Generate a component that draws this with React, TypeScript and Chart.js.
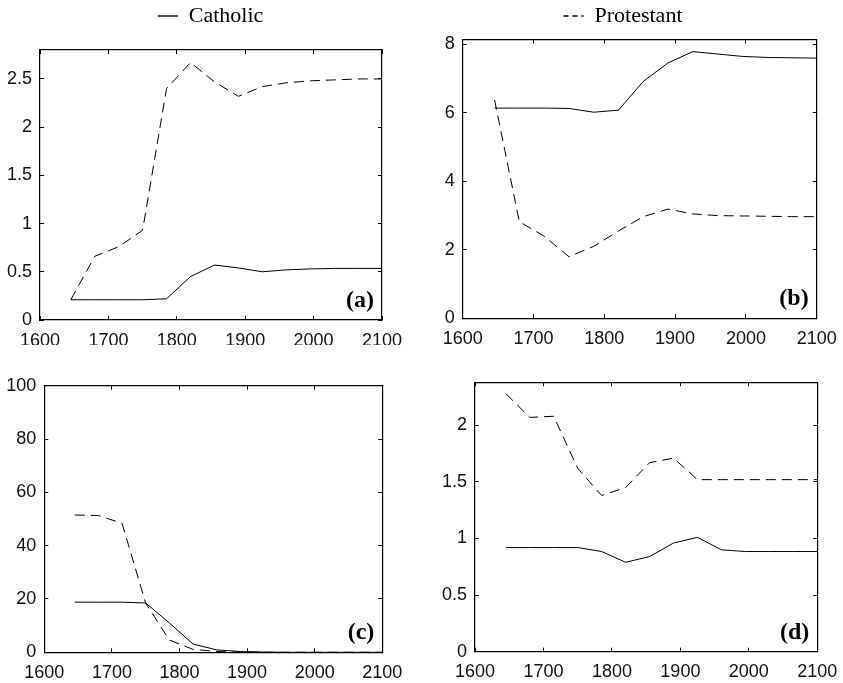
import React, { useEffect, useRef } from "react";
import { Chart, registerables } from "chart.js";

Chart.register(...registerables);
Chart.defaults.font.family = "'Liberation Sans', Arial, sans-serif";

// ---------- data ----------
const years = [1645, 1680, 1715, 1750, 1785, 1820, 1855, 1890, 1925, 1960, 1995, 2030, 2065, 2100];
const seriesLabels = ["Catholic", "Protestant"];

const catholicA = [0.21, 0.21, 0.21, 0.21, 0.22, 0.45, 0.57, 0.54, 0.5, 0.52, 0.53, 0.535, 0.535, 0.535];
const protestantA = [0.21, 0.66, 0.76, 0.93, 2.4, 2.67, 2.47, 2.32, 2.42, 2.46, 2.48, 2.49, 2.5, 2.5];

const catholicB = [6.14, 6.14, 6.14, 6.13, 6.02, 6.08, 6.92, 7.46, 7.79, 7.72, 7.65, 7.62, 7.61, 7.6];
const protestantB = [6.38, 2.82, 2.4, 1.8, 2.1, 2.55, 2.97, 3.19, 3.05, 3.0, 2.99, 2.98, 2.97, 2.97];

const catholicC = [18.8, 18.8, 18.8, 18.5, 11, 3.1, 0.9, 0.3, 0.1, 0, 0, 0, 0, 0];
const protestantC = [51.5, 51.3, 48.4, 18.4, 4.6, 1.1, 0.3, 0.1, 0, 0, 0, 0, 0, 0];

const catholicD = [0.92, 0.92, 0.92, 0.92, 0.885, 0.79, 0.84, 0.96, 1.01, 0.9, 0.885, 0.885, 0.885, 0.885];
const protestantD = [2.28, 2.07, 2.08, 1.62, 1.38, 1.45, 1.67, 1.71, 1.52, 1.52, 1.52, 1.52, 1.52, 1.52];

const xTicks = [1600, 1700, 1800, 1900, 2000, 2100];
const yTicksA = [0, 0.5, 1, 1.5, 2, 2.5];
const yTicksB = [0, 2, 4, 6, 8];
const yTicksC = [0, 20, 40, 60, 80, 100];
const yTicksD = [0, 0.5, 1, 1.5, 2];

const panelTags = ["(a)", "(b)", "(c)", "(d)"];
const yMaxes = [2.8, 8.15, 100, 2.38];

// ---------- layout ----------
type Panel = {
  tag: string;
  cat: number[];
  prot: number[];
  yTicks: number[];
  yMax: number;
  legendIndex: number | null;
  left: number; top: number; w: number; h: number;
  padL: number; padR: number; padT: number; padB: number;
  yW: number; y2W: number; xH: number; x2H: number;
};

const panels: Panel[] = [
  { tag: panelTags[0], cat: catholicA, prot: protestantA, yTicks: yTicksA, yMax: yMaxes[0], legendIndex: 0,
    left: 0, top: 0, w: 421, h: 345, padL: 0, padR: 0, padT: 0, padB: 0, yW: 40, y2W: 39, xH: 25, x2H: 13 },
  { tag: panelTags[1], cat: catholicB, prot: protestantB, yTicks: yTicksB, yMax: yMaxes[1], legendIndex: 1,
    left: 421, top: 0, w: 422, h: 345, padL: 0, padR: 18, padT: 0, padB: 0, yW: 41.7, y2W: 8.3, xH: 26.7, x2H: 2.3 },
  { tag: panelTags[2], cat: catholicC, prot: protestantC, yTicks: yTicksC, yMax: yMaxes[2], legendIndex: null,
    left: 0, top: 345, w: 421, h: 338, padL: 0, padR: 0, padT: 40, padB: 0, yW: 44.3, y2W: 38.7, xH: 30.7, x2H: 0.7 },
  { tag: panelTags[3], cat: catholicD, prot: protestantD, yTicks: yTicksD, yMax: yMaxes[3], legendIndex: null,
    left: 421, top: 345, w: 422, h: 338, padL: 0, padR: 0, padT: 37, padB: 0, yW: 54, y2W: 25.7, xH: 31.3, x2H: 0.3 },
];

const tickFont = { family: "'Liberation Sans', Arial, sans-serif", size: 18 };

const panelTagPlugin = {
  id: "panelTag",
  afterDraw(chart: any, _args: any, opts: any) {
    const { ctx, chartArea } = chart;
    ctx.save();
    ctx.font = "bold 24px 'Liberation Serif', 'Times New Roman', serif";
    ctx.fillStyle = "#000";
    ctx.textAlign = "right";
    ctx.textBaseline = "alphabetic";
    ctx.fillText(opts.text, chartArea.right - 8, chartArea.bottom - 13);
    ctx.restore();
  },
};

function xAxis(p: Panel, pos: "bottom" | "top") {
  const main = pos === "bottom";
  return {
    type: "linear",
    position: pos,
    min: xTicks[0],
    max: xTicks[xTicks.length - 1],
    afterBuildTicks: (s: any) => { s.ticks = xTicks.map((value) => ({ value })); },
    ticks: {
      display: main,
      padding: 14,
      color: "#111",
      font: tickFont,
      maxRotation: 0,
      autoSkip: false,
      callback: (v: any) => String(v),
    },
    grid: { display: true, drawOnChartArea: false, drawTicks: true, tickLength: -4, color: "#000", lineWidth: 1 },
    border: { display: true, color: "#000", width: 1.2 },
    afterFit: (s: any) => {
      s.height = main ? p.xH : p.x2H;
      s.paddingLeft = 0; s.paddingRight = 0; s.paddingTop = 0; s.paddingBottom = 0;
    },
  };
}

function yAxis(p: Panel, pos: "left" | "right") {
  const main = pos === "left";
  return {
    type: "linear",
    position: pos,
    min: 0,
    max: p.yMax,
    afterBuildTicks: (s: any) => { s.ticks = p.yTicks.map((value) => ({ value })); },
    ticks: {
      display: main,
      padding: 12,
      color: "#111",
      font: tickFont,
      autoSkip: false,
      callback: (v: any) => String(v),
    },
    grid: { display: true, drawOnChartArea: false, drawTicks: true, tickLength: -4, color: "#000", lineWidth: 1 },
    border: { display: true, color: "#000", width: 1.2 },
    afterFit: (s: any) => {
      s.width = main ? p.yW : p.y2W;
      s.paddingLeft = 0; s.paddingRight = 0; s.paddingTop = 0; s.paddingBottom = 0;
    },
  };
}

function makeConfig(p: Panel): any {
  const legend =
    p.legendIndex === null
      ? { display: false }
      : {
          display: true,
          position: "top",
          align: "center",
          fullSize: true,
          labels: {
            usePointStyle: true,
            pointStyle: "line",
            pointStyleWidth: 20,
            padding: 5,
            color: "#000",
            font: { family: "'Liberation Serif', 'Times New Roman', serif", size: 22 },
            filter: (item: any) => item.datasetIndex === p.legendIndex,
            generateLabels: (chart: any) =>
              (Chart.defaults.plugins.legend.labels.generateLabels as any)(chart).map((it: any) => ({
                ...it,
                lineWidth: 1.4,
                strokeStyle: "#000",
                lineDash: it.datasetIndex === 1 ? [5, 4] : [],
              })),
          },
        };
  return {
    type: "line",
    data: {
      datasets: [
        {
          label: seriesLabels[0],
          data: years.map((x, i) => ({ x, y: p.cat[i] })),
          borderColor: "#000",
          borderWidth: 1,
          pointRadius: 0,
          fill: false,
          tension: 0,
        },
        {
          label: seriesLabels[1],
          data: years.map((x, i) => ({ x, y: p.prot[i] })),
          borderColor: "#000",
          borderWidth: 1,
          borderDash: [10, 6],
          pointRadius: 0,
          fill: false,
          tension: 0,
        },
      ],
    },
    options: {
      responsive: false,
      animation: false,
      layout: { padding: { left: p.padL, right: p.padR, top: p.padT, bottom: p.padB } },
      plugins: {
        legend,
        tooltip: { enabled: false },
        title: { display: false },
        panelTag: { text: p.tag },
      },
      scales: {
        x: xAxis(p, "bottom"),
        x2: xAxis(p, "top"),
        y: yAxis(p, "left"),
        y2: yAxis(p, "right"),
      },
    },
    plugins: [panelTagPlugin],
  };
}

function PanelChart({ p }: { p: Panel }) {
  const ref = useRef<HTMLCanvasElement | null>(null);
  useEffect(() => {
    if (!ref.current) return;
    const chart = new Chart(ref.current, makeConfig(p));
    return () => chart.destroy();
  }, [p]);
  return (
    <canvas
      ref={ref}
      width={p.w}
      height={p.h}
      style={{ position: "absolute", left: p.left, top: p.top, width: p.w, height: p.h }}
    />
  );
}

export default function App() {
  return (
    <div style={{ position: "absolute", left: 0, top: 0, width: 843, height: 683, background: "#fff", overflow: "hidden" }}>
      {panels.map((p) => (
        <PanelChart key={p.tag} p={p} />
      ))}
    </div>
  );
}
